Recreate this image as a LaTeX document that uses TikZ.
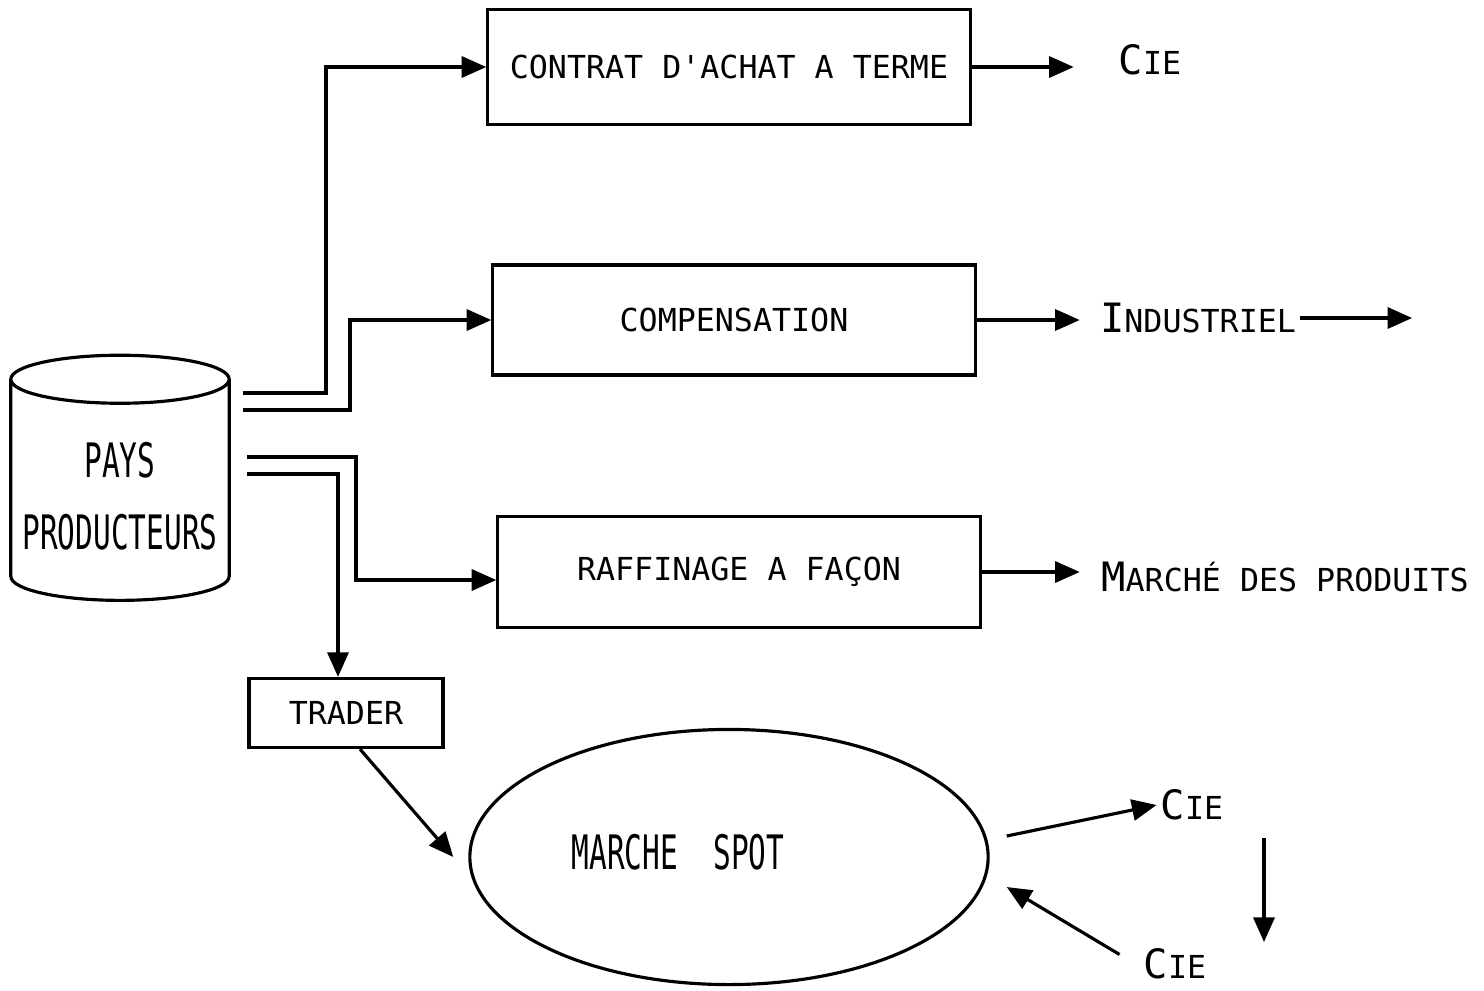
\documentclass[tikz,border=0pt]{standalone}
\usepackage{fontspec}
\setmonofont{DejaVu Sans Mono}
\newfontfamily\condfont[FakeStretch=0.62]{DejaVu Sans Mono}
\usetikzlibrary{arrows.meta,shapes.geometric,positioning}
\tikzset{
  boite/.style={draw,line width=0.9pt,font=\ttfamily\fontsize{9}{11}\selectfont},
  fleche/.style={line width=0.9pt,-{Triangle[length=7pt,width=6pt]}},
  etiq/.style={font=\ttfamily\fontsize{9}{11}\selectfont,inner sep=1pt},
}
\newcommand\pcap[2]{{\fontsize{11.5}{12}\selectfont #1}#2}
\begin{document}
\begin{tikzpicture}[x=0.01cm,y=-0.01cm]
\useasboundingbox (0,0) rectangle (1484,990);
% les pays producteurs
\node[draw,cylinder,shape border rotate=90,aspect=0.22,line width=0.9pt,
  minimum width=1.98cm,minimum height=2.45cm,align=center,
  font=\condfont\fontsize{13.5}{20.5}\selectfont] (pays) at (120,496) {PAYS\\PRODUCTEURS};
\coordinate (d1) at (243,393);
\coordinate (d2) at (243,410);
\coordinate (d3) at (247,457);
\coordinate (d4) at (247,474);
% les boites
\node[boite,minimum width=4.82cm,minimum height=1.15cm] (contrat) at (729,67) {CONTRAT D'ACHAT A TERME};
\node[boite,minimum width=4.82cm,minimum height=1.10cm] (compens) at (734,320) {COMPENSATION};
\node[boite,minimum width=4.82cm,minimum height=1.11cm] (raffin) at (739,572) {RAFFINAGE A FAÇON};
\node[boite,minimum width=1.94cm,minimum height=0.69cm] (trader) at (346,713) {TRADER};
\node[draw,ellipse,line width=0.9pt,minimum width=5.18cm,minimum height=2.55cm] (spot) at (729,857) {};
\node[font=\condfont\fontsize{13.5}{16}\selectfont] (spottxt) at (678,852) {MARCHE\ \ SPOT};
% destinations
\node[etiq] (cie1) at (1150,60) {\pcap{C}{IE}};
\node[etiq] (indus) at (1198,318) {\pcap{I}{NDUSTRIEL}};
\node[etiq] (marche) at (1285,577) {\pcap{M}{ARCHÉ DES PRODUITS}};
\node[etiq] (cie2) at (1192,805) {\pcap{C}{IE}};
\node[etiq] (cie3) at (1175,964) {\pcap{C}{IE}};
\coordinate (h) at (1264,838);
\coordinate (b) at (1264,942);
% fleches
\draw[fleche] (d1) -- (326,393) |- (contrat.west);
\draw[fleche] (d2) -- (350,410) |- (compens.west);
\draw[fleche] (d3) -- (356,457) |- ([yshift=-0.08cm]raffin.west);
\draw[fleche] (d4) -| ([xshift=-0.08cm]trader.north);
\draw[fleche] (contrat.east) -- ++(102,0);
\draw[fleche] (compens.east) -- ++(103,0);
\draw[fleche] (indus.east) -- ++(112,0);
\draw[fleche] (raffin.east) -- ++(98,0);
\draw[fleche] ([xshift=0.14cm]trader.south) -- ([xshift=-0.15cm]spot.west);
\draw[fleche] ([xshift=0.17cm,yshift=0.21cm]spot.east) -- (cie2.west);
\draw[fleche] ([xshift=-0.2cm,yshift=-0.1cm]cie3.north west) -- ([xshift=0.17cm,yshift=-0.3cm]spot.east);
\draw[fleche] (h) -- (b);
\end{tikzpicture}
\end{document}
